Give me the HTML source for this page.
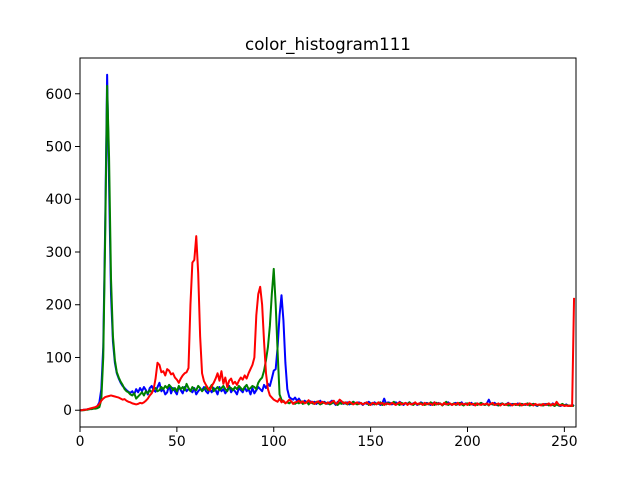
<!DOCTYPE html>
<html><head><meta charset="utf-8"><style>
body{margin:0;background:#fff}
svg{display:block;font-family:"DejaVu Sans","Liberation Sans",sans-serif}
</style></head><body>
<svg id="chart" width="640" height="480" viewBox="0 0 640 480">
<rect width="640" height="480" fill="#fff"/>
<text x="328" y="50" text-anchor="middle" font-size="16.7">color_histogram111</text>
<g id="plot"></g>
<g id="axes"></g>
</svg>
<script>
const xTicks=[0,50,100,150,200,250];
const yTicks=[0,100,200,300,400,500,600];
const seriesNames=["blue","green","red"];
const blueVals=[0,0,1,1,2,2,3,4,5,8,15,40,120,350,636,430,
220,130,90,70,60,52,46,42,38,35,33,36,30,40,34,42,
36,44,38,30,42,46,38,35,44,52,36,40,30,34,48,32,
42,36,30,45,38,32,44,36,40,38,34,42,30,36,40,38,
44,36,32,40,34,42,38,30,44,36,40,32,38,46,34,40,
36,30,42,38,34,44,36,40,30,42,32,38,44,40,36,48,
42,50,46,60,75,78,120,180,218,170,90,40,25,22,20,24,
18,22,16,14,18,15,13,17,14,16,12,15,18,13,16,14,
12,15,18,14,10,16,13,17,12,14,15,11,13,16,14,12,
15,13,10,14,12,16,13,11,15,12,14,10,13,22,12,15,
14,11,13,15,12,16,13,10,14,12,15,11,13,14,10,12,
15,13,11,14,12,10,13,15,11,14,12,10,13,11,15,12,
10,13,14,11,12,15,10,13,12,11,14,10,12,13,11,14,
12,10,13,20,12,11,14,10,9,12,13,10,11,14,9,12,
11,10,13,9,12,11,10,13,9,11,12,10,8,11,10,9,
12,10,11,9,13,10,12,9,8,10,9,11,8,9,8,10];
const greenVals=[0,0,0,1,1,2,2,3,3,4,6,20,100,330,615,480,
250,140,95,72,62,54,48,40,36,34,30,28,32,22,26,30,
34,28,36,32,38,34,40,42,36,38,44,40,46,42,48,44,
38,42,36,46,40,44,38,50,42,36,44,40,38,46,42,36,
40,44,38,42,48,36,40,44,38,42,46,40,36,44,42,38,
44,40,46,42,38,44,48,40,42,46,44,40,52,58,62,75,
95,120,160,220,268,200,110,30,20,16,14,15,13,16,14,12,
15,13,17,12,14,16,11,15,13,12,16,14,11,13,15,12,
14,11,13,16,12,10,14,12,15,13,11,14,12,16,13,11,
12,14,11,13,15,10,12,14,11,13,12,15,10,13,11,14,
12,13,16,11,12,10,14,12,13,11,15,12,10,13,12,11,
14,12,10,13,11,15,12,10,14,11,13,9,12,16,10,12,
11,13,10,12,14,11,9,12,13,10,12,11,13,10,12,14,
11,10,12,9,13,11,10,12,9,11,13,10,12,9,11,10,
12,10,11,9,12,10,11,13,9,10,12,11,9,10,11,9,
10,12,9,11,10,8,11,9,10,12,9,10,9,8,9,8];
const redVals=[0,0,1,1,2,3,4,5,6,8,12,18,22,25,26,27,
28,27,26,25,24,22,20,21,18,16,15,13,12,11,12,14,
13,15,18,22,28,32,40,60,90,86,72,74,66,78,75,68,
70,62,58,52,60,66,70,72,80,200,280,285,330,260,140,70,
55,48,42,38,46,52,60,70,56,74,50,62,44,56,60,50,
54,48,56,62,58,66,60,70,78,86,100,180,220,234,200,130,
70,40,28,24,20,18,16,22,15,18,13,16,20,17,12,15,
16,18,14,17,13,15,19,14,16,12,15,17,13,16,14,12,
15,13,16,18,12,14,20,17,13,15,12,16,14,11,13,15,
12,14,11,13,15,12,10,14,13,11,15,12,14,10,13,12,
11,14,12,10,13,15,11,12,14,10,13,11,12,15,11,13,
12,10,14,11,13,12,10,15,11,13,12,10,14,11,12,13,
10,12,11,14,10,13,11,12,10,14,11,12,9,13,11,10,
12,11,13,10,12,14,10,11,13,9,12,11,10,13,12,9,
11,12,10,13,9,11,12,10,13,11,9,12,10,11,9,12,
10,11,13,9,12,10,16,11,9,10,8,9,8,9,8,213];
const seriesVals=[blueVals,greenVals,redVals];
const colors=["#0000ff","#008000","#ff0000"];

const L=80,R=576,T=58,B=427;
const xMin=0,xMax=256,yMin=-31.8,yMax=667.8;
function xs(v){return L+(v-xMin)/(xMax-xMin)*(R-L);}
function ys(v){return B-(v-yMin)/(yMax-yMin)*(B-T);}
const NS="http://www.w3.org/2000/svg";
const plot=document.getElementById('plot');
const axes=document.getElementById('axes');

seriesVals.forEach((vals,si)=>{
  const pl=document.createElementNS(NS,'polyline');
  pl.setAttribute('points',vals.map((v,i)=>xs(i).toFixed(2)+','+ys(v).toFixed(2)).join(' '));
  pl.setAttribute('fill','none');
  pl.setAttribute('stroke',colors[si]);
  pl.setAttribute('stroke-width','2');
  pl.setAttribute('stroke-linejoin','round');
  
  
  plot.appendChild(pl);
});

const frame=document.createElementNS(NS,'rect');
frame.setAttribute('x',L);frame.setAttribute('y',T);
frame.setAttribute('width',R-L);frame.setAttribute('height',B-T);
frame.setAttribute('fill','none');frame.setAttribute('stroke','#000');frame.setAttribute('stroke-width','1');


axes.appendChild(frame);

xTicks.forEach(t=>{
  const x=xs(t);
  const ln=document.createElementNS(NS,'line');
  ln.setAttribute('x1',x);ln.setAttribute('x2',x);ln.setAttribute('y1',B);ln.setAttribute('y2',B+5);
  ln.setAttribute('stroke','#000');
  
  
  axes.appendChild(ln);
  const tx=document.createElementNS(NS,'text');
  tx.setAttribute('x',x);tx.setAttribute('y',B+19);tx.setAttribute('text-anchor','middle');tx.setAttribute('font-size','13.9');
  tx.textContent=t;
  
  
  axes.appendChild(tx);
});
yTicks.forEach(t=>{
  const y=ys(t);
  const ln=document.createElementNS(NS,'line');
  ln.setAttribute('x1',L-5);ln.setAttribute('x2',L);ln.setAttribute('y1',y);ln.setAttribute('y2',y);
  ln.setAttribute('stroke','#000');
  
  
  axes.appendChild(ln);
  const tx=document.createElementNS(NS,'text');
  tx.setAttribute('x',L-8);tx.setAttribute('y',y+5);tx.setAttribute('text-anchor','end');tx.setAttribute('font-size','13.9');
  tx.textContent=t;
  
  
  axes.appendChild(tx);
});
</script>
</body></html>
